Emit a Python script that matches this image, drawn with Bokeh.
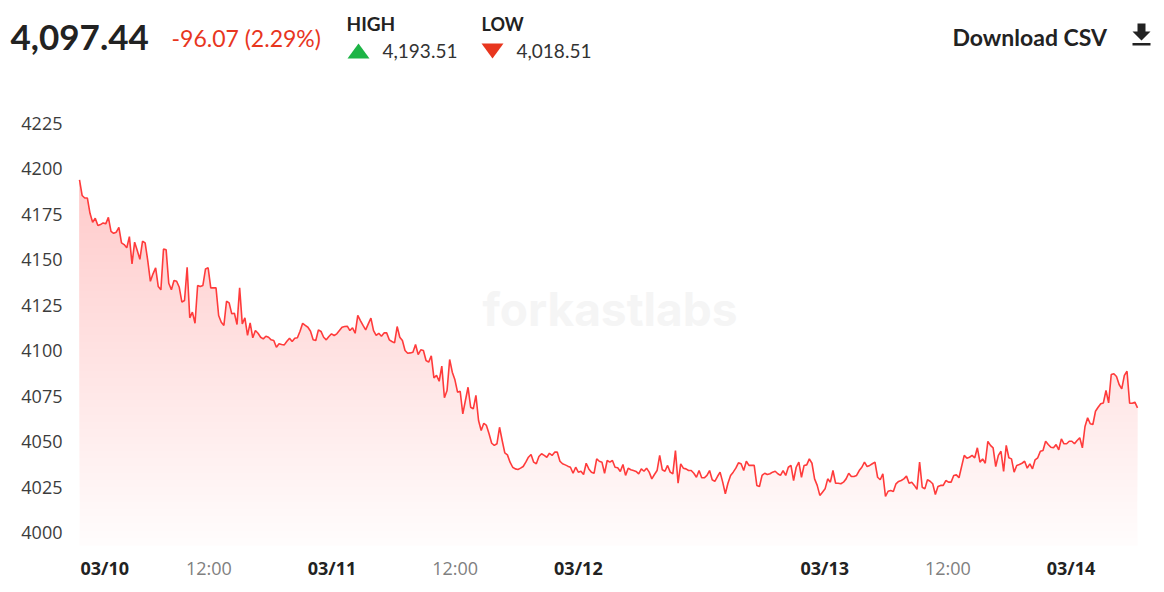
import numpy as np
from bokeh.plotting import figure
from bokeh.models import Range1d, Label, PolyAnnotation
from bokeh.embed import file_html
from bokeh.resources import INLINE

# ---------------- data ----------------
# time in hours relative to 03/10 00:00
t_first = -0.6
t_last = 102.47

prices = [
    4194.0, 4185.4, 4184.0, 4184.0, 4175.6, 4170.7, 4172.9, 4168.9, 4169.4, 4170.3,
    4169.8, 4173.4, 4165.7, 4164.6, 4165.2, 4167.9, 4159.3, 4158.4, 4156.6, 4162.8,
    4147.8, 4159.7, 4155.1, 4150.3, 4160.2, 4159.3, 4149.6, 4138.2, 4142.3, 4145.6,
    4135.3, 4133.5, 4156.0, 4155.5, 4137.1, 4133.5, 4138.6, 4138.2, 4134.9, 4126.7,
    4127.6, 4145.9, 4118.1, 4121.2, 4115.1, 4135.9, 4135.3, 4135.9, 4145.0, 4145.6,
    4134.6, 4134.6, 4134.6, 4119.4, 4115.7, 4113.9, 4127.2, 4126.3, 4120.3, 4120.6,
    4114.4, 4134.6, 4114.8, 4118.1, 4108.4, 4115.3, 4107.1, 4111.1,
    4109.6, 4107.4, 4106.5, 4108.0, 4107.4, 4106.0, 4105.6, 4101.9, 4103.8, 4103.4,
    4103.2, 4105.2, 4106.9, 4105.1, 4106.9, 4107.1, 4110.7, 4115.1, 4113.9, 4112.9,
    4110.7, 4106.0, 4105.6, 4111.5, 4110.6, 4107.4, 4106.0, 4107.8, 4109.3, 4108.4,
    4109.3, 4111.1, 4112.9, 4113.3, 4113.5, 4111.1, 4112.6, 4109.6, 4119.4, 4116.6,
    4113.9, 4111.5, 4114.8, 4117.9, 4111.1, 4108.4, 4109.6, 4108.0, 4109.8, 4109.8,
    4106.0, 4105.1, 4104.3, 4113.3, 4107.4, 4105.6, 4100.1, 4098.6, 4098.8, 4099.2,
    4103.4, 4097.9, 4100.5, 4100.1, 4094.6, 4093.7, 4097.2, 4085.1, 4086.4, 4083.2,
    4091.5, 4074.1, 4078.1, 4095.2, 4088.2, 4084.0, 4077.2, 4077.7, 4065.3, 4072.6,
    4079.9, 4068.9, 4068.0, 4075.4,
    4061.6, 4056.1, 4060.1, 4058.9, 4054.3, 4049.1, 4047.9, 4048.8, 4057.9, 4050.6,
    4043.8, 4042.7, 4038.7, 4035.9, 4035.0, 4034.7, 4035.4, 4036.3, 4038.7, 4041.4,
    4042.9, 4038.7, 4037.8, 4041.8, 4043.3, 4042.4, 4041.4, 4043.6, 4042.4, 4044.2,
    4044.2, 4039.2, 4037.8, 4037.2, 4036.5, 4035.9, 4032.6, 4035.9, 4033.2, 4033.7,
    4031.9, 4038.1, 4035.0, 4033.2, 4032.6, 4040.5, 4039.2, 4038.7, 4032.6, 4039.6,
    4038.7, 4039.6, 4035.9, 4035.6, 4033.6, 4037.4, 4031.4, 4035.4, 4034.5, 4034.1,
    4033.6, 4032.3, 4035.0, 4033.7, 4035.4, 4033.2, 4029.5, 4031.9, 4034.1, 4042.4,
    4034.5, 4033.7, 4036.9, 4033.2, 4032.3, 4045.1, 4027.1, 4037.8, 4035.4, 4035.0,
    4034.1, 4034.1, 4032.6, 4030.4, 4034.1, 4030.1, 4030.1, 4031.4, 4034.1, 4029.0,
    4028.1, 4030.8, 4033.2, 4027.7, 4021.3, 4027.1, 4031.4, 4033.2, 4035.4, 4038.3,
    4037.8, 4034.1, 4039.2, 4036.9, 4036.9, 4036.9, 4025.9, 4025.3, 4031.4, 4032.6,
    4031.9, 4032.3, 4033.2, 4033.7, 4032.3, 4031.4, 4034.1, 4031.4, 4035.9,
    4036.9, 4028.6, 4035.9, 4038.7, 4030.4, 4036.9, 4037.2, 4040.5, 4038.1, 4029.5,
    4025.9, 4020.4, 4022.2, 4024.0, 4029.5, 4027.7, 4034.1, 4027.1, 4027.1, 4026.8,
    4027.7, 4029.5, 4032.6, 4030.8, 4030.8, 4031.4, 4034.1, 4035.9, 4038.7, 4036.3,
    4036.9, 4037.8, 4038.7, 4030.4, 4029.0, 4032.3, 4019.8, 4022.7, 4023.1, 4022.6,
    4026.8, 4028.1, 4028.6, 4029.5, 4031.0, 4027.1, 4027.7, 4025.9, 4023.7, 4038.7,
    4024.9, 4024.0, 4029.0, 4028.2, 4026.8, 4020.9, 4025.3, 4025.9, 4025.9, 4028.6,
    4027.7, 4027.7, 4031.4, 4031.7, 4030.1, 4036.3, 4042.4, 4040.9,
    4041.4, 4042.4, 4041.1, 4046.6, 4038.7, 4040.5, 4038.1, 4050.1, 4047.9, 4046.6,
    4036.3, 4042.4, 4044.7, 4033.6, 4047.9, 4041.1, 4040.5, 4033.2, 4036.9, 4037.4,
    4038.1, 4039.2, 4035.4, 4037.8, 4035.0, 4040.0, 4041.1, 4044.7, 4045.1, 4050.2,
    4048.4, 4046.9, 4046.6, 4048.4, 4045.5, 4051.5, 4048.8, 4048.8, 4050.2, 4050.2,
    4048.8, 4050.6, 4052.1, 4046.6, 4058.3, 4063.1, 4059.8, 4059.4, 4066.7, 4068.9,
    4070.8, 4071.3, 4078.1, 4071.3, 4086.9, 4087.3, 4085.8, 4081.4, 4079.0, 4086.4,
    4088.7, 4071.1, 4071.1, 4071.7, 4068.6,
]

tick_hours = [0, 12, 24, 36, 48, 72, 84, 96]
tick_texts = ["03/10", "12:00", "03/11", "12:00", "03/12", "03/13", "12:00", "03/14"]
tick_is_date = [True, False, True, False, True, True, False, True]
y_ticks = [4000, 4025, 4050, 4075, 4100, 4125, 4150, 4175, 4200, 4225]

last_price = "4,097.44"
change_text = "-96.07 (2.29%)"
high_value = "4,193.51"
low_value = "4,018.51"

# ---------------- layout constants (pixels) ----------------
W, H = 1156, 584
PANE_L, PANE_R = 79, 1137          # where the series starts / ends
PANE_B = 545                       # bottom of the area fill
Y0_PX, Y0_VAL = 532, 4000          # pixel row of the 4000 level
PX_PER_UNIT = (532 - 123) / 225.0  # vertical scale
PX_PER_HOUR = (PANE_R - PANE_L) / (t_last - t_first)

x_lo = t_first - PANE_L / PX_PER_HOUR
x_hi = t_last + (W - PANE_R) / PX_PER_HOUR
y_hi = Y0_VAL + Y0_PX / PX_PER_UNIT
y_lo = Y0_VAL - (H - Y0_PX) / PX_PER_UNIT
fill_base = Y0_VAL - (PANE_B - Y0_PX) / PX_PER_UNIT

p = figure(width=W, height=H, output_backend="svg", toolbar_location=None,
           x_range=Range1d(x_lo, x_hi), y_range=Range1d(y_lo, y_hi),
           min_border_left=0, min_border_right=0, min_border_top=0,
           min_border_bottom=0)
p.axis.visible = False
p.grid.visible = False
p.outline_line_color = None
p.background_fill_color = "white"
p.border_fill_color = "white"

# watermark
p.add_layout(Label(x=482, y=308, x_units="canvas", y_units="canvas",
                   text="forkastlabs", text_font="Inter", text_font_style="bold",
                   text_font_size="46px", text_color="#f5f5f5",
                   text_baseline="middle", level="underlay"))

xs = np.linspace(t_first, t_last, len(prices))
vals = np.array(prices)

# vertical gradient fill built from stacked translucent layers
top_h = 4195.0
O_b, O_t = 0.015, 0.30
prev = 0.0
for lv in np.arange(fill_base, top_h, 4.0):
    O = O_b + (O_t - O_b) * (lv - fill_base) / (top_h - fill_base)
    a = 1 - (1 - O) / (1 - prev)
    prev = O
    p.varea(x=xs, y1=np.full_like(vals, lv), y2=np.maximum(vals, lv),
            fill_color="#ff4040", fill_alpha=a)

p.line(xs, vals, line_color="#ff3b3b", line_width=1.6)

# y tick labels
for t in y_ticks:
    p.add_layout(Label(x=62, x_units="canvas", y=t, y_units="data", text=str(t),
                       text_align="right", text_baseline="middle",
                       text_font="Open Sans", text_font_size="18px",
                       text_color="#3c3c3c"))

# x tick labels (the first one is clamped to the left edge of the pane)
for h, txt, is_date in zip(tick_hours, tick_texts, tick_is_date):
    near_left = (h - t_first) < 2.5
    p.add_layout(Label(
        x=t_first if near_left else h, x_units="data", y=567, y_units="canvas",
        x_offset=1 if near_left else 0,
        text=txt, text_align="left" if near_left else "center",
        text_baseline="middle", text_font="Open Sans", text_font_size="18px",
        text_font_style="bold" if is_date else "normal",
        text_color="#222222" if is_date else "#808080"))

# header
def htext(x, y, text, size, color, style="normal"):
    p.add_layout(Label(x=x, y=y, x_units="canvas", y_units="canvas", text=text,
                       text_font="Lato", text_font_size=size, text_color=color,
                       text_font_style=style, text_baseline="middle"))

htext(10, 37, last_price, "35px", "#222222", "bold")
htext(171, 37, change_text, "23px", "#e8361e")
htext(346, 23, "HIGH", "19px", "#222222", "bold")
htext(382, 50, high_value, "19px", "#333333")
htext(481, 23, "LOW", "18px", "#222222", "bold")
htext(516, 50, low_value, "19px", "#333333")
htext(952, 36, "Download CSV", "23px", "#222222", "bold")

def poly(xs_, ys_, color):
    p.add_layout(PolyAnnotation(xs=xs_, ys=ys_, xs_units="canvas", ys_units="canvas",
                                fill_color=color, fill_alpha=1.0, line_color=None,
                                line_alpha=0))

poly([347, 369, 358], [58, 58, 43], "#1db446")
poly([481, 503, 492], [43, 43, 58], "#e8361e")
poly([1137, 1145, 1145, 1150, 1141, 1132, 1137], [23, 23, 31, 31, 40, 31, 31], "#222222")
poly([1132, 1150, 1150, 1132], [42.5, 42.5, 45, 45], "#222222")

open("out.html", "w").write(file_html(p, INLINE))
